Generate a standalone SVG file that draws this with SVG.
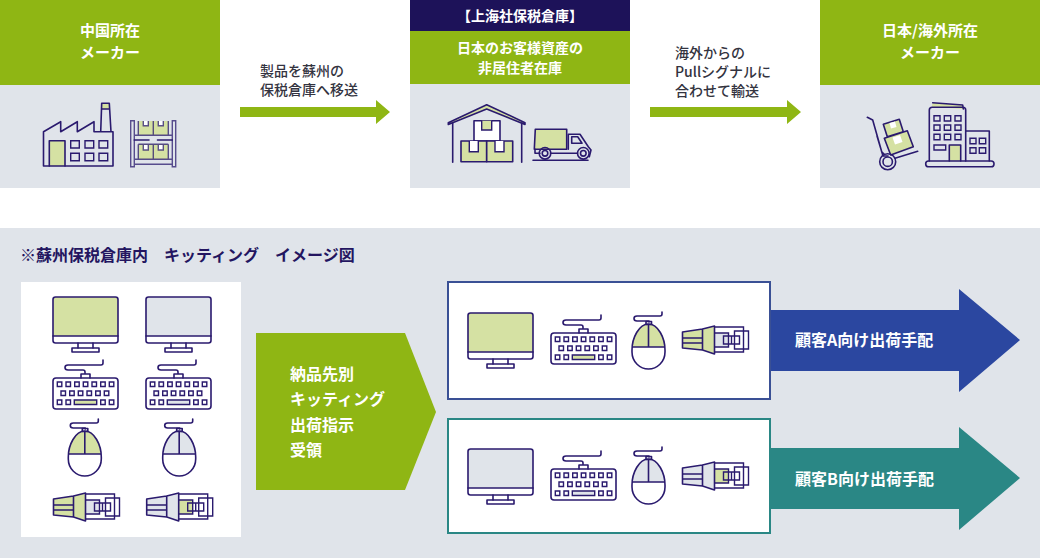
<svg xmlns="http://www.w3.org/2000/svg" width="1040" height="558" viewBox="0 0 1040 558">
<style>
text{font-family:"Noto Sans CJK JP","Noto Sans",sans-serif;font-weight:700}
.w{fill:#fff;font-size:14px;text-anchor:middle}
.h{fill:#fff;font-size:15px;text-anchor:middle}
.b{fill:#fff;font-size:16px}
.d{fill:#333340;font-size:14px;font-weight:500}
.t{fill:#231560;font-size:16px}
.l{fill:none;stroke:#2a1a6e;stroke-width:1.6;stroke-linejoin:round;stroke-linecap:round}
.g{fill:#d5e1a3}
.s{fill:#e0e4ea}
.wf{fill:#fff}
.k{fill:none;stroke:#2a1a6e;stroke-width:1.4}
.p{fill:none;stroke:#2a1a6e;stroke-width:1.4;opacity:.75}
</style>
<defs>
<g id="monitor">
<path class="l" d="M26 47v5M41 47v5"/>
<rect class="l" x="20" y="52" width="27" height="4"/>
<rect class="l" x="1" y="1" width="65" height="46" rx="2.500"/>
<path class="l" d="M1 40h65"/>
</g>
<path id="mfillshape" d="M1 1h65v39H1z"/>
<g id="kb">
<path class="l" d="M51 0v3q0 2-2 2H16q-3 0-3 2.500t3 2.500h15q2 0 2 2v1M29 18v-4h9v4"/>
<rect class="l" x="1" y="18" width="65" height="31" rx="3"/>
<path class="k" d="M5.300 22h4.500v4.500H5.300zM14 22h4.500v4.500H14zM22.700 22h4.500v4.500h-4.500zM31.300 22h4.500v4.500h-4.500zM40 22h4.500v4.500H40zM48.700 22h4.500v4.500h-4.500zM57.300 22h4.500v4.500h-4.500zM9 31h4.500v4.500H9zM17.700 31h4.500v4.500h-4.500zM26.300 31h4.500v4.500h-4.500zM35 31h4.500v4.500H35zM43.700 31h4.500v4.500h-4.500zM52.300 31h4.500v4.500h-4.500zM5.300 40h4.500v4.500H5.300zM14 40h4.500v4.500H14zM48.700 40h4.500v4.500h-4.500zM57.300 40h4.500v4.500h-4.500zM22.300 40h22.400v4.500H22.300z"/>
</g>
<path id="mtop" d="M16.500 12C7 12 0 24 .5 35h32C33 24 26 12 16.500 12z"/>
<g id="mouse">
<path class="l" d="M30 0v2q0 2-2 2H5q-3 0-3 2.500T5 9h12v1"/>
<path class="l" d="M14 9.500h5.500v3H14z"/>
<path class="l" d="M16.500 12C7 12 0 26 0 38v2c0 10 8 17 16.500 17S33 50 33 40v-2C33 26 26 12 16.500 12zM.5 35h32M16.500 12v23"/>
</g>
<path id="pbody" d="M1 6 21 3v21L1 22zM21 3 33 0v28L21 24z"/>
<g id="plug">
<path class="l" d="M1 6 21 3v21L1 22zM21 3 33 0v28L21 24zM1 12h20M1 17h20"/>
<path class="k" d="M33 1h29v25H33M33 7h14v14H33M42 10h16v8H42zM50 10v8M53 5h14v18H53z"/>
</g>
</defs>
<rect width="1040" height="558" fill="#fff"/>
<rect x="0" y="228" width="1040" height="330" fill="#e0e4ea"/>

<g id="maker-cn">
<rect y="0" width="220" height="85" fill="#8fb614"/>
<rect y="85" width="220" height="103" fill="#e0e4ea"/>
<text class="h" x="110" y="36">中国所在</text>
<text class="h" x="110" y="58">メーカー</text>
<path class="g" d="M49.300 140.700H65V166H49.300zM101.700 103.300h7.600v5.700h-7.600z"/>
<path class="l" d="M43.500 166H113V131.700H100.700L101.700 103.300H109.300L111 131.700M101.500 109H109.500M43.500 166V131.700L60.700 121.700V131.700L77.300 121.700V131.700L94 121.700V131.700H101"/>
<path class="l" d="M49.300 166V140.700H65V166"/>
<path class="k" d="M70.700 140.700h8.600v7.300h-8.600zM85 140.700h8.700v7.300H85zM99 140.700h8.700v7.300H99zM70.700 153.300h8.600v7.400h-8.600zM85 153.300h8.700v7.400H85zM99 153.300h8.700v7.400H99z"/>
<path class="g" d="M138.300 121h30v14.300h-30zM138.300 144.300h30v15h-30z"/>
<path class="wf" d="M143.300 121h5v4.700h-5zM158.300 121h5v4.700h-5zM143.300 145h5v5h-5zM158.300 145h5v5h-5z"/>
<path class="p" d="M130.700 120.700h3.600v46h-3.600zM172.300 120.700h3.400v46h-3.400zM134.300 135.300h38M134.300 159.300h38M134.300 164.300h38M138.300 121v14.300M153.300 121v14.300M168.300 121v14.300M138.300 144.300v15M153.300 144.300v15M168.300 144.300v15M138.300 144.300h30M143.300 121v4.700h5V121M158.300 121v4.700h5V121M143.300 145v5h5v-5M158.300 145v5h5v-5"/>
<path class="l" d="M134.300 140h14.700M157.500 140h14.800"/>
</g>
<g id="arrow-1"><path d="M240 107h136v-7l14 12-14 12v-7H240z" fill="#8fb614"/></g>
<text class="d" x="260" y="76">製品を蘇州の</text>
<text class="d" x="260" y="95">保税倉庫へ移送</text>

<g id="warehouse">
<rect x="410" y="0" width="220" height="31" fill="#1d1259"/>
<rect x="410" y="31" width="220" height="53" fill="#8fb614"/>
<rect x="410" y="84" width="220" height="104" fill="#e0e4ea"/>
<text class="w" x="520" y="21">【上海社保税倉庫】</text>
<text class="w" x="520" y="53">日本のお客様資産の</text>
<text class="w" x="520" y="73">非居住者在庫</text>
<path class="g l" d="M448.300 122.700 486.700 104.700 525 122.700V124.500L486.700 109 448.300 124.500z"/>
<path class="l" d="M452.700 123v39.300M521.700 123v39.300"/>
<rect class="wf l" x="474" y="120.700" width="26" height="20.300"/>
<rect class="g l" x="461" y="141" width="25.700" height="20.700"/>
<rect class="g l" x="486.700" y="141" width="26" height="20.700"/>
<path class="g" d="M481.700 120.700h10V130h-10z"/>
<path class="wf" d="M469.300 141h9v10.700h-9zM495 141h9v10.700h-9z"/>
<path class="k" d="M481.700 120.700V130h10v-9.300M469.300 141v10.700h9V141M495 141v10.700h9V141"/>
<path class="g l" d="M535.300 129.300h31.400v20h-32.400z"/>
<path class="l" d="M568.300 134.300H580L588.300 146.700 591 150 589.300 156.700M568.300 134.300V149.300M535 149.300v4h5M550.500 153.300h27M533 160.300h55"/>
<path class="l" d="M571.700 136.700h6L582 143.300H571.700z"/>
<circle class="l" cx="545" cy="153.300" r="5.800"/><circle class="l" cx="545" cy="153.300" r="2.800"/>
<circle class="l" cx="583.300" cy="153.300" r="5.800"/><circle class="l" cx="583.300" cy="153.300" r="2.800"/>
</g>
<g id="arrow-2"><path d="M650 107h137v-7l14 12-14 12v-7H650z" fill="#8fb614"/></g>
<text class="d" x="675" y="58">海外からの</text>
<text class="d" x="675" y="77">Pullシグナルに</text>
<text class="d" x="675" y="96">合わせて輸送</text>

<g id="maker-jp">
<rect x="820" y="0" width="220" height="85" fill="#8fb614"/>
<rect x="820" y="85" width="220" height="103" fill="#e0e4ea"/>
<text class="h" x="930" y="36">日本/海外所在</text>
<text class="h" x="930" y="58">メーカー</text>
<path class="g" d="M932.700 102.700 962.700 105 963.300 109 931.700 106.700zM949.300 145h11.400v15.700h-11.400z"/>
<path class="l" d="M932.700 102.700 962.700 105 963.300 109"/>
<path class="g l" d="M883.300 124.300 899.300 119.300 903.300 131.700 887.300 136.700zM884.300 138.300 907.300 130.700 913.300 146.700 890.700 155z"/>
<path class="wf" d="M889.500 123 895 121.500 896.500 127 891 128.500zM892.500 137.500 900 135 902.500 142 895 144.500z"/>
<path class="l" d="M867.300 117.300 872.700 120 881.700 151.700 884 154M877 136l6 20 5 0M895 158.300 917.700 151.300"/>
<circle class="l" cx="887.700" cy="161.700" r="8"/><circle class="l" cx="887.700" cy="161.700" r="4.700"/>
<rect class="l" x="925.700" y="161" width="68.300" height="5.700" rx="2.800"/>
<path class="l" d="M929.300 161V110q0-2.700 3-2.700h30.400q3 0 3 2.700v51M965.700 131h23.600v30"/>
<path class="l" d="M949.300 161V145h11.400v16"/>
<path class="k" d="M934 115.700h6v5.300h-6zM944.300 115.700h6.400v5.300h-6.400zM955 115.700h6v5.300h-6zM934 125h6v5.300h-6zM944.300 125h6.400v5.300h-6.400zM955 125h6v5.300h-6zM934 134.300h6v5.400h-6zM944.300 134.300h6.400v5.400h-6.400zM955 134.300h6v5.400h-6zM934 145h11.700v5H934zM970 138.300h6v5.400h-6zM979.300 138.300h6.400v5.400h-6.400zM970 147.700h6v5.600h-6zM979.300 147.700h6.400v5.600h-6.400z"/>
</g>

<text class="t" x="20" y="261">※蘇州保税倉庫内　キッティング　イメージ図</text>

<g id="parts">
<rect x="21" y="282" width="220" height="255" fill="#fff"/>
<g transform="translate(52,296)"><use href="#mfillshape" class="g"/><use href="#monitor"/></g>
<g transform="translate(145,296)"><use href="#mfillshape" class="s"/><use href="#monitor"/></g>
<g transform="translate(52,360)"><path class="g" d="M22.300 40h22.400v4.500H22.300z"/><use href="#kb"/></g>
<g transform="translate(145,360)"><path class="s" d="M22.300 40h22.400v4.500H22.300z"/><use href="#kb"/></g>
<g transform="translate(68.300,419)"><use href="#mtop" class="g"/><use href="#mouse"/></g>
<g transform="translate(162.700,419)"><use href="#mtop" class="s"/><use href="#mouse"/></g>
<g transform="translate(52.500,493)"><use href="#pbody" class="g"/><path class="s" d="M33 7h14v14H33z"/><use href="#plug"/></g>
<g transform="translate(145.700,493)"><use href="#pbody" class="s"/><path class="g" d="M33 7h14v14H33z"/><use href="#plug"/></g>
</g>

<g id="instruction">
<path d="M256 333h149l31 79-31 78H256z" fill="#8fb614"/>
<text class="b" x="290" y="380">納品先別</text>
<text class="b" x="290" y="405">キッティング</text>
<text class="b" x="290" y="431">出荷指示</text>
<text class="b" x="290" y="456">受領</text>
</g>

<g id="customer-a">
<path d="M770 310h189v-21l61 51-61 52v-21H770z" fill="#2b47a0"/>
<rect x="448" y="282" width="322" height="117" fill="#fff" stroke="#3a5095" stroke-width="2"/>
<text class="b" x="795" y="346">顧客A向け出荷手配</text>
<g transform="translate(467,312)"><use href="#mfillshape" class="g"/><use href="#monitor"/></g>
<g transform="translate(550,315)"><path class="g" d="M22.300 40h22.400v4.500H22.300z"/><use href="#kb"/></g>
<g transform="translate(632,312)"><use href="#mtop" class="g"/><use href="#mouse"/></g>
<g transform="translate(681.500,326)"><use href="#pbody" class="g"/><path class="s" d="M33 7h14v14H33z"/><use href="#plug"/></g>
</g>

<g id="customer-b">
<path d="M770 448h189v-21l61 51-61 52v-21H770z" fill="#2a8785"/>
<rect x="448" y="419" width="322" height="114" fill="#fff" stroke="#2a8785" stroke-width="2"/>
<text class="b" x="795" y="485">顧客B向け出荷手配</text>
<g transform="translate(467,448)"><use href="#mfillshape" class="s"/><use href="#monitor"/></g>
<g transform="translate(550,451)"><path class="s" d="M22.300 40h22.400v4.500H22.300z"/><use href="#kb"/></g>
<g transform="translate(632,447)"><use href="#mtop" class="s"/><use href="#mouse"/></g>
<g transform="translate(681.500,462)"><use href="#pbody" class="s"/><path class="g" d="M33 7h14v14H33z"/><use href="#plug"/></g>
</g>
</svg>
